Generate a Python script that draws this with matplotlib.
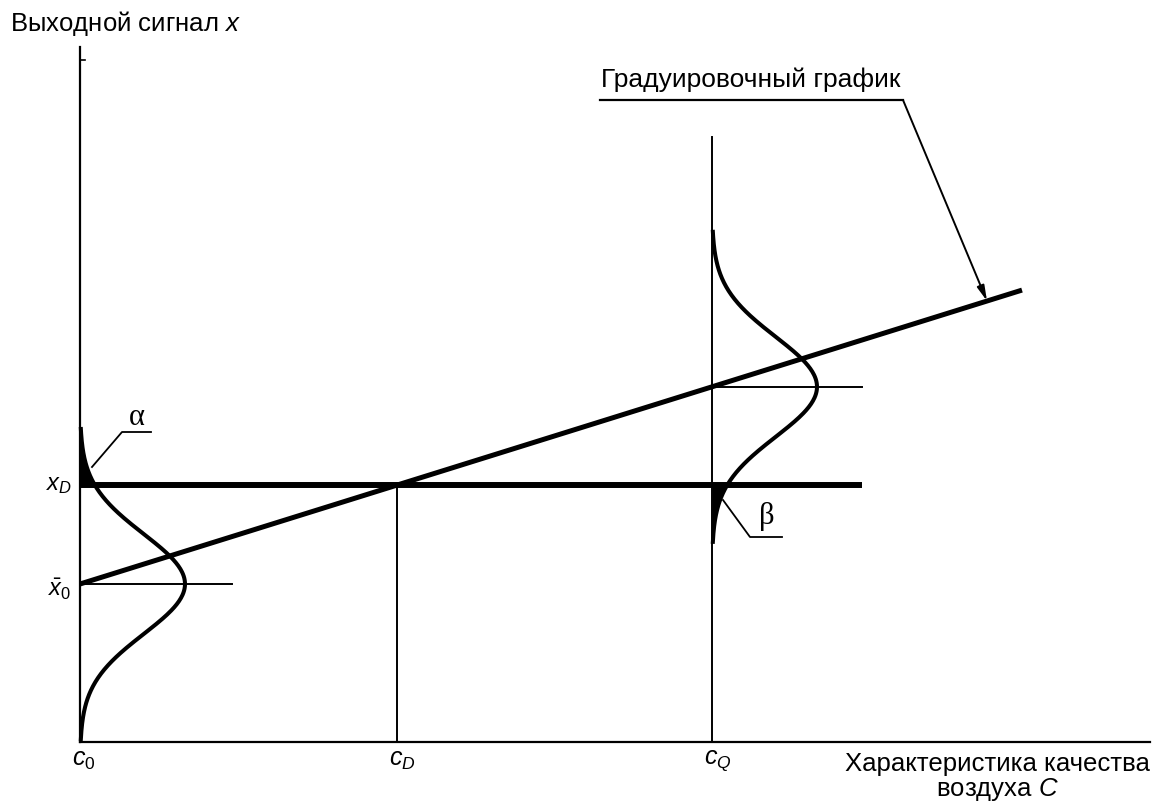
import matplotlib.pyplot as plt
import numpy as np

plt.rcParams['font.family'] = ['Liberation Sans', 'DejaVu Sans']
plt.rcParams['mathtext.fontset'] = 'custom'
plt.rcParams['mathtext.rm'] = 'Liberation Sans'
plt.rcParams['mathtext.it'] = 'Liberation Sans:italic'

# concentration points on the C axis
c_0 = 0.0
c_D = 3.17
c_Q = 6.32
c_end = 9.42          # end of calibration line

# output signal values
x_bar0 = 1.58         # mean blank signal
slope = 0.312         # calibration sensitivity
x_D = x_bar0 + slope * c_D
x_Q = x_bar0 + slope * c_Q

# spread of the signal distributions
sigma = 0.5
peak = 1.05
tail = 3.1

tick_labels = ['$c_0$', '$c_D$', '$c_Q$']
tick_pos = [c_0, c_D, c_Q]

fig = plt.figure(figsize=(11.6, 8.05), dpi=100)
ax = fig.add_axes([0, 0, 1, 1])
ax.set_xlim(-0.8, 10.8)
ax.set_ylim(-0.63, 7.42)
ax.axis('off')

k = 'black'
# axes
ax.plot([c_0, c_0], [0, 6.95], color=k, lw=1.6)
ax.plot([c_0, c_0 + 0.05], [6.82, 6.82], color=k, lw=1.2)
ax.plot([c_0, 10.7], [0, 0], color=k, lw=1.6)

# verticals at c_D and c_Q
ax.plot([c_D, c_D], [0, x_D], color=k, lw=1.4)
ax.plot([c_Q, c_Q], [0, 6.05], color=k, lw=1.4)

# thin mean lines
ax.plot([c_0, 1.52], [x_bar0, x_bar0], color=k, lw=1.4)
ax.plot([c_Q, 7.82], [x_Q, x_Q], color=k, lw=1.4)

# decision level
ax.plot([c_0, 7.82], [x_D, x_D], color=k, lw=4.3, solid_capstyle='butt')

# calibration line
cc = np.array([c_0, c_end])
ax.plot(cc, x_bar0 + slope * cc, color=k, lw=3.6, solid_capstyle='butt')

# distributions
def bell(base, mean):
    s = np.linspace(mean - tail * sigma, mean + tail * sigma, 300)
    c = base + peak * np.exp(-0.5 * ((s - mean) / sigma) ** 2)
    return s, c

s0, b0 = bell(c_0, x_bar0)
ax.plot(b0, s0, color=k, lw=2.9)
m = s0 >= x_D
ax.fill_betweenx(s0[m], c_0, b0[m], color=k, lw=0)

sq, bq = bell(c_Q, x_Q)
ax.plot(bq, sq, color=k, lw=2.9)
m = sq <= x_D
ax.fill_betweenx(sq[m], c_Q, bq[m], color=k, lw=0)

# alpha / beta leaders
ax.plot([0.12, 0.42, 0.71], [2.75, 3.10, 3.10], color=k, lw=1.3)
ax.text(0.57, 3.25, 'α', family='Liberation Serif', fontsize=22,
        ha='center', va='center')
ax.plot([6.43, 6.70, 7.02], [2.42, 2.05, 2.05], color=k, lw=1.3)
ax.text(6.87, 2.26, 'β', family='Liberation Serif', fontsize=22,
        ha='center', va='center')

# calibration label with arrow
ax.plot([5.2, 8.23], [6.42, 6.42], color=k, lw=1.6)
tip = 9.07
ax.annotate('', xy=(tip, x_bar0 + slope * tip), xytext=(8.23, 6.42),
            arrowprops=dict(arrowstyle='-|>,head_length=0.9,head_width=0.22',
                            color=k, lw=1.4, shrinkA=0, shrinkB=0))
ax.text(5.21, 6.5, 'Градуировочный график', fontsize=19, ha='left',
        va='bottom')

# axis titles
ax.text(-0.7, 7.19, 'Выходной сигнал $x$', fontsize=18.5, ha='left',
        va='center')
ax.text(10.7, -0.1, 'Характеристика качества\nвоздуха $C$', fontsize=18.5,
        ha='right', va='top', multialignment='center', linespacing=1.0)

# tick labels
for pos, lab in zip(tick_pos, tick_labels):
    ax.text(pos - 0.08, -0.06, lab, fontsize=18, ha='left', va='top')

ax.text(-0.08, x_D, '$x_D$', fontsize=17, ha='right', va='center')
ax.text(-0.08, x_bar0 - 0.05, r'$\bar{x}_0$', fontsize=17, ha='right',
        va='center')

fig.savefig('out.png', dpi=100)
